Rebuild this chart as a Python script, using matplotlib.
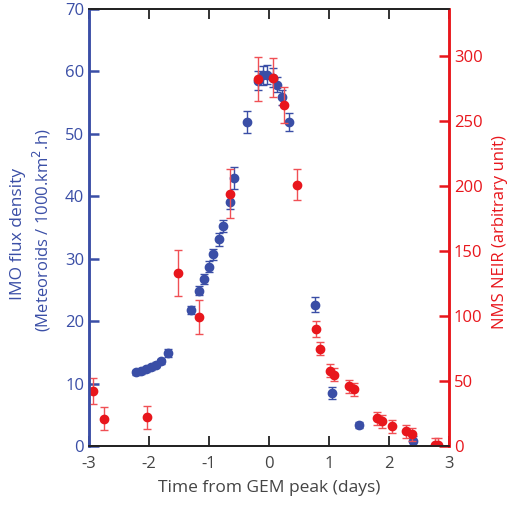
import matplotlib
matplotlib.use('Agg')
import matplotlib.pyplot as plt

plt.rcParams['font.family'] = ['Open Sans', 'DejaVu Sans']
plt.rcParams['axes.unicode_minus'] = False

# IMO flux density (blue, left axis)
imo_t = [-2.22, -2.13, -2.05, -1.97, -1.88, -1.80, -1.68, -1.30, -1.17, -1.08, -1.00,
         -0.93, -0.83, -0.77, -0.65, -0.58, -0.37, -0.18, -0.10, -0.03, 0.07, 0.13,
         0.22, 0.33, 0.77, 1.05, 1.50, 2.40]
imo_flux = [11.8, 12.0, 12.3, 12.6, 13.0, 13.6, 14.9, 21.8, 24.9, 26.8, 28.7,
            30.7, 33.1, 35.2, 39.1, 42.9, 51.9, 58.5, 59.4, 59.5, 59.0, 57.9,
            55.9, 51.9, 22.6, 8.5, 3.4, 0.8]
imo_err = [0.4, 0.4, 0.4, 0.4, 0.4, 0.4, 0.6, 0.6, 0.7, 0.8, 0.9,
           0.9, 1.0, 1.0, 1.2, 1.8, 1.7, 1.5, 1.5, 1.5, 1.5, 1.2,
           1.2, 1.5, 1.2, 1.0, 0.5, 0.8]

# NMS NEIR (red, right axis)
nms_t = [-2.93, -2.75, -2.03, -1.52, -1.17, -0.65, -0.18, 0.07, 0.25, 0.47,
         0.78, 0.85, 1.02, 1.08, 1.33, 1.42, 1.80, 1.88, 2.05, 2.28, 2.38, 2.77, 2.82]
nms_val = [42, 21, 22, 133, 99, 194, 282, 283, 262, 201,
           90, 74.6, 58, 54.6, 46, 43.6, 21.5, 19, 15, 11.5, 9, 1, 1]
nms_err = [10, 9, 9, 18, 13, 19, 17, 15, 14, 12,
           6, 5, 5, 5, 5, 5, 5, 5, 5, 5, 5, 5, 5]

blue = '#3a4ea6'
red = '#e8161c'
red_err = '#f05055'

fig = plt.figure(figsize=(5.09, 5.05), dpi=100)
ax = fig.add_axes([89/509, 1-446/505, 360/509, 437/505])
ax2 = ax.twinx()

ax.errorbar(imo_t, imo_flux, yerr=imo_err, fmt='o', color=blue, ms=6,
            elinewidth=1.0, capsize=3, capthick=1.0)
ax2.errorbar(nms_t, nms_val, yerr=nms_err, fmt='o', color=red, ecolor=red_err, ms=6,
             elinewidth=1.0, capsize=3, capthick=1.0)

ax.set_xlim(-3, 3)
ax.set_ylim(0, 70)
ax2.set_ylim(0, 336)
ax.set_xticks(range(-3, 4))
ax.set_yticks(range(0, 71, 10))
ax2.set_yticks(range(0, 301, 50))

for a in (ax, ax2):
    a.spines['top'].set_color('#222222')
    a.spines['bottom'].set_color('#222222')
    a.spines['top'].set_linewidth(1.3)
    a.spines['bottom'].set_linewidth(1.3)
    a.spines['left'].set_color(blue)
    a.spines['right'].set_color(red)
    a.spines['left'].set_linewidth(1.8)
    a.spines['right'].set_linewidth(1.8)

ax.tick_params(axis='x', direction='in', length=7, width=1.3, color='#222222',
               labelcolor='#444444', labelsize=12, top=True, pad=7)
ax.tick_params(axis='y', direction='in', length=7, width=1.8, color=blue,
               labelcolor=blue, labelsize=12)
ax2.tick_params(axis='y', direction='in', length=7, width=1.8, color=red,
                labelcolor=red, labelsize=12)

ax.set_xlabel('Time from GEM peak (days)', color='#444444', fontsize=12.5, labelpad=6)
fig.text(18/509, 1-234/505, 'IMO flux density', rotation=90, color=blue,
         fontsize=12.5, ha='center', va='center')
fig.text(42/509, 1-230/505, '(Meteoroids / 1000.km$^{2}$.h)', rotation=90, color=blue,
         fontsize=12, ha='center', va='center')
fig.text(500/509, 1-232/505, 'NMS NEIR (arbitrary unit)', rotation=90, color=red,
         fontsize=12, ha='center', va='center')

fig.savefig('out.png', dpi=100)
